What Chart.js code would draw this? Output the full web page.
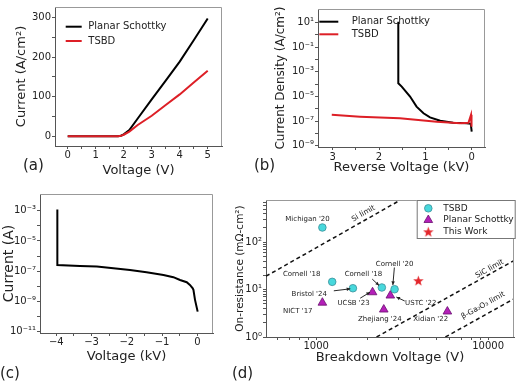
<!DOCTYPE html>
<html>
<head>
<meta charset="utf-8">
<title>Schottky diode figure</title>
<script src="https://cdn.jsdelivr.net/npm/chart.js@4.4.1/dist/chart.umd.min.js"></script>
<style>
  body { margin: 0; background: #fff; }
  #fig { position: relative; width: 520px; height: 381px; background: #fff; overflow: hidden; font-family: "DejaVu Sans", sans-serif; }
  #fig canvas { position: absolute; left: 0; top: 0; }
  .tag { position: absolute; font-size: 15px; line-height: 15px; color: #222; }
</style>
</head>
<body>
<div id="fig">
  <canvas id="fwdChart" width="520" height="381"></canvas>
  <canvas id="revChart" width="520" height="381"></canvas>
  <canvas id="bvChart" width="520" height="381"></canvas>
  <canvas id="benchChart" width="520" height="381"></canvas>
  <div class="tag" style="left:23px;top:158px">(a)</div>
  <div class="tag" style="left:254px;top:158px">(b)</div>
  <div class="tag" style="left:0px;top:366px">(c)</div>
  <div class="tag" style="left:232px;top:366px">(d)</div>
</div>
<script>
// ======= (a) forward J-V =======
const fwdVoltage = [0, 0.5, 1, 1.5, 1.8, 1.9, 2, 2.2, 2.5, 3, 3.5, 4, 4.5, 5];
const fwdPlanar  = [0, 0, 0, 0, 0, 1.5, 5, 16, 45, 93.5, 141, 189, 243, 298];
const fwdTsbd    = [0, 0, 0, 0, 0, 1.2, 4, 12, 28.6, 52, 79, 106, 136, 166];
const fwdXMajor = [0, 1, 2, 3, 4, 5];
const fwdXLabels = ['0', '1', '2', '3', '4', '5'];
const fwdXMinor = [0.5, 1.5, 2.5, 3.5, 4.5];
const fwdYMajor = [0, 100, 200, 300];
const fwdYLabels = ['0', '100', '200', '300'];
const fwdYMinor = [50, 150, 250];

// ======= (b) reverse J-V (kV, A/cm2) =======
const revPlanarV = [1.584, 1.584, 1.51, 1.33, 1.19, 1.04, 0.9, 0.68, 0.4, 0.11, 0.02, 0];
const revPlanarJ = [12, 1.2e-4, 6.3e-5, 1e-5, 1.5e-6, 4.3e-7, 2e-7, 1.07e-7, 7.4e-8, 6.6e-8, 6e-8, 1.4e-8];
const revTsbdV = [3.02, 2.41, 1.55, 0.755, 0.25, 0.07, 0.015, 0.008, 0];
const revTsbdJ = [3.2e-7, 2.3e-7, 1.7e-7, 8.9e-8, 6.6e-8, 7.4e-8, 3.2e-7, 5e-8, 3.5e-8];
const revXMajor = [0, 1, 2, 3];
const revXLabels = ['0', '1', '2', '3'];
const revXMinor = [0.5, 1.5, 2.5];
const revYMajor = [1e-9, 1e-7, 1e-5, 1e-3, 1e-1, 1e1];
const revYLabels = ['10⁻⁹', '10⁻⁷', '10⁻⁵', '10⁻³', '10⁻¹', '10¹'];
const revYMinor = [1e-8, 1e-6, 1e-4, 1e-2, 1e0];

// ======= (c) breakdown sweep (kV, A) =======
const bvVoltage = [-3.97, -3.97, -3.33, -2.85, -1.91, -1.44, -0.96, -0.68, -0.49, -0.3, -0.21, -0.13, -0.11, -0.065, 0.01];
const bvCurrent = [1.2e-3, 2.57e-7, 2.19e-7, 2.0e-7, 1.2e-7, 8.5e-8, 5.6e-8, 4.0e-8, 2.6e-8, 1.86e-8, 1.23e-8, 7.4e-9, 5.75e-9, 1.26e-9, 2.1e-10];
const bvXMajor = [-4, -3, -2, -1, 0];
const bvXLabels = ['−4', '−3', '−2', '−1', '0'];
const bvXMinor = [-3.5, -2.5, -1.5, -0.5];
const bvYMajor = [1e-11, 1e-9, 1e-7, 1e-5, 1e-3];
const bvYLabels = ['10⁻¹¹', '10⁻⁹', '10⁻⁷', '10⁻⁵', '10⁻³'];
const bvYMinor = [1e-10, 1e-8, 1e-6, 1e-4];

// ======= (d) benchmark (V, mOhm-cm2) =======
const tsbdBV  = [1087, 1240, 1636, 2410, 2858];
const tsbdRon = [205, 14.6, 10.7, 11.1, 10.2];
const planarBV  = [1087, 2128, 2700, 2473, 5795];
const planarRon = [5.3, 8.8, 7.5, 3.8, 3.45];
const thisWorkBV  = [3930];
const thisWorkRon = [15.5];
const siLimitBV  = [511, 3055];
const siLimitRon = [19.2, 760];
const sicLimitBV  = [2245, 14140];
const sicLimitRon = [1, 41.1];
const gaLimitBV  = [5644, 14140];
const gaLimitRon = [1, 6.4];
const limitNames   = ['Si limit', 'SiC limit', 'β-Ga₂O₃ limit'];
const limitLabelBV  = [1884, 10210, 9355];
const limitLabelRon = [403, 27.5, 4.62];
const noteText = ["Michigan '20", "Cornell '18", "Cornell '18", "Cornell '20", "Bristol '24", "UCSB '23", "NICT '17", "Zhejiang '24", "Xidian '22", "USTC '22"];
const noteBV  = [891, 824, 1884, 2858, 912, 1650, 782, 2345, 4635, 4060];
const noteRon = [301, 20.8, 21.5, 35, 8.15, 5.27, 3.45, 2.34, 2.34, 5.09];
const arrowFromBV  = [1267, 1803, 2119, 2850, 3274];
const arrowFromRon = [9.44, 6.59, 16.7, 29.3, 5.75];
const arrowToBV  = [1580, 2056, 2323, 2793, 2928];
const arrowToRon = [10.4, 8.81, 12.2, 12.5, 6.98];
const benchXMajor = [1000, 10000];
const benchXLabels = ['1000', '10000'];
const benchXMinor = [600, 700, 800, 900, 2000, 3000, 4000, 5000, 6000, 7000, 8000, 9000];
const benchYMajor = [1, 10, 100];
const benchYLabels = ['10⁰', '10¹', '10²'];
const benchYMinor = [2, 3, 4, 5, 6, 7, 8, 9, 20, 30, 40, 50, 60, 70, 80, 90, 200, 300, 400, 500, 600, 700];

// ======= helpers =======
Chart.defaults.font.family = '"DejaVu Sans", sans-serif';
Chart.defaults.color = '#222';
const AXIS = '#555';
const RED = '#dd1f26';

const pts = (xs, ys) => xs.map((x, i) => ({ x, y: ys[i] }));

function labelFor(value, major, labels) {
  const i = major.findIndex(m => m === 0 ? Math.abs(value) < 1e-9 : Math.abs(value / m - 1) < 1e-6);
  return i < 0 ? '' : labels[i];
}

function axis(o) {
  const all = o.major.concat(o.minor).sort((p, q) => p - q);
  return {
    type: o.type || 'linear',
    min: o.min, max: o.max, reverse: !!o.reverse, bounds: 'data',
    border: { display: true, color: AXIS, width: 1 },
    grid: { drawOnChartArea: false, tickLength: 3, tickColor: AXIS, tickWidth: 1 },
    ticks: {
      autoSkip: false, maxRotation: 0, minRotation: 0, padding: o.pad,
      font: { size: 10 }, color: '#222',
      callback: v => labelFor(v, o.major, o.labels)
    },
    title: { display: true, text: o.title, font: { size: o.titleSize || 13 }, color: '#222', padding: 0 },
    afterBuildTicks: s => { s.ticks = all.map(v => ({ value: v })); },
    afterFit: s => { if (s.isHorizontal()) s.height = o.size; else s.width = o.size; }
  };
}

function lineSet(label, data, color, order) {
  return { label, data, showLine: true, borderColor: color, backgroundColor: color, borderWidth: 2, pointRadius: 0, tension: 0, order };
}

function drawMarker(ctx, ds, x, y) {
  if (ds.pointStyle instanceof HTMLCanvasElement) {
    ctx.drawImage(ds.pointStyle, x - ds.pointStyle.width / 2, y - ds.pointStyle.height / 2);
    return;
  }
  ctx.fillStyle = ds.backgroundColor;
  ctx.strokeStyle = ds.borderColor;
  ctx.lineWidth = ds.borderWidth;
  ctx.beginPath();
  if (ds.pointStyle === 'triangle') {
    for (let k = 0; k < 3; k++) {
      const a = -Math.PI / 2 + k * 2 * Math.PI / 3;
      ctx.lineTo(x + ds.pointRadius * Math.cos(a), y + ds.pointRadius * Math.sin(a));
    }
    ctx.closePath();
  } else {
    ctx.arc(x, y, ds.pointRadius, 0, 2 * Math.PI);
  }
  ctx.fill();
  ctx.stroke();
}

// top/right frame edges + in-plot keys
const frame = {
  id: 'frame',
  afterDraw(chart, args, opts) {
    const { ctx, chartArea: a } = chart;
    ctx.save();
    ctx.strokeStyle = '#999';
    ctx.lineWidth = 1;
    ctx.beginPath();
    ctx.moveTo(a.left, Math.round(a.top) + 0.5);
    ctx.lineTo(Math.round(a.right) - 0.5, Math.round(a.top) + 0.5);
    ctx.lineTo(Math.round(a.right) - 0.5, a.bottom);
    ctx.stroke();

    const k = opts.lineKey;
    if (k) {
      ctx.font = '10px "DejaVu Sans"';
      ctx.textBaseline = 'middle';
      k.order.forEach((di, i) => {
        const ds = chart.data.datasets[di];
        const y = a.top + k.y + i * k.row;
        ctx.strokeStyle = ds.borderColor;
        ctx.lineWidth = 2;
        ctx.beginPath();
        ctx.moveTo(a.left + k.x, y);
        ctx.lineTo(a.left + k.x + k.w, y);
        ctx.stroke();
        ctx.fillStyle = '#222';
        ctx.fillText(ds.label, a.left + k.x + k.w + k.gap, y);
      });
    }

    const m = opts.markerKey;
    if (m) {
      ctx.fillStyle = '#fff';
      ctx.fillRect(a.left + m.boxX, a.top + m.boxY, m.boxW, m.boxH);
      ctx.strokeStyle = '#777';
      ctx.lineWidth = 1;
      ctx.strokeRect(a.left + m.boxX + 0.5, a.top + m.boxY + 0.5, m.boxW, m.boxH);
      ctx.font = '9px "DejaVu Sans"';
      ctx.textBaseline = 'middle';
      m.order.forEach((di, i) => {
        const ds = chart.data.datasets[di];
        const y = a.top + m.y + i * m.row;
        drawMarker(ctx, ds, a.left + m.x, y);
        ctx.fillStyle = '#222';
        ctx.fillText(ds.label, a.left + m.textX, y);
      });
    }
    ctx.restore();
  }
};

function arrow(ctx, x0, y0, x1, y1) {
  const ang = Math.atan2(y1 - y0, x1 - x0);
  ctx.beginPath();
  ctx.moveTo(x0, y0);
  ctx.lineTo(x1, y1);
  ctx.stroke();
  ctx.beginPath();
  ctx.moveTo(x1, y1);
  ctx.lineTo(x1 - 4 * Math.cos(ang - 0.45), y1 - 4 * Math.sin(ang - 0.45));
  ctx.lineTo(x1 - 4 * Math.cos(ang + 0.45), y1 - 4 * Math.sin(ang + 0.45));
  ctx.closePath();
  ctx.fill();
}

// labels, arrows and limit names for panel (d)
const benchNotes = {
  id: 'benchNotes',
  afterDatasetsDraw(chart) {
    const { ctx, scales: { x, y } } = chart;
    ctx.save();
    ctx.fillStyle = '#222';
    ctx.strokeStyle = '#111';
    ctx.lineWidth = 0.9;
    ctx.font = '7px "DejaVu Sans"';
    ctx.textAlign = 'center';
    ctx.textBaseline = 'middle';
    noteText.forEach((t, i) => ctx.fillText(t, x.getPixelForValue(noteBV[i]), y.getPixelForValue(noteRon[i])));
    arrowFromBV.forEach((v, i) => arrow(ctx,
      x.getPixelForValue(v), y.getPixelForValue(arrowFromRon[i]),
      x.getPixelForValue(arrowToBV[i]), y.getPixelForValue(arrowToRon[i])));

    ctx.font = '7.5px "DejaVu Sans"';
    limitNames.forEach((t, i) => {
      const p = chart.getDatasetMeta(3 + i).data;
      const ang = Math.atan2(p[1].y - p[0].y, p[1].x - p[0].x);
      ctx.save();
      ctx.translate(x.getPixelForValue(limitLabelBV[i]), y.getPixelForValue(limitLabelRon[i]));
      ctx.rotate(ang);
      ctx.fillText(t, 0, 0);
      ctx.restore();
    });
    ctx.restore();
  }
};

function starImage(size, color) {
  const c = document.createElement('canvas');
  c.width = c.height = size;
  const g = c.getContext('2d');
  const r = size / 2;
  g.beginPath();
  for (let i = 0; i < 10; i++) {
    const ang = -Math.PI / 2 + i * Math.PI / 5;
    const rr = i % 2 ? r * 0.42 : r;
    g.lineTo(r + rr * Math.cos(ang), r + 0.5 + rr * Math.sin(ang));
  }
  g.closePath();
  g.fillStyle = color;
  g.fill();
  return c;
}

function panel(id, pad, datasets, x, y, extras, plugins) {
  return new Chart(document.getElementById(id), {
    type: 'scatter',
    data: { datasets },
    options: {
      responsive: false,
      animation: false,
      events: [],
      layout: { padding: pad },
      plugins: { legend: { display: false }, tooltip: { enabled: false }, frame: extras },
      scales: { x, y }
    },
    plugins: [frame].concat(plugins || [])
  });
}

// ======= (a) =======
panel('fwdChart', { left: 14, top: 7, right: 298, bottom: 203 },
  [lineSet('Planar Schottky', pts(fwdVoltage, fwdPlanar), '#000', 1),
   lineSet('TSBD', pts(fwdVoltage, fwdTsbd), RED, 0)],
  axis({ min: -0.454, max: 5.51, major: fwdXMajor, minor: fwdXMinor, labels: fwdXLabels, title: 'Voltage (V)', size: 32, pad: 0 }),
  axis({ min: -24.5, max: 327, major: fwdYMajor, minor: fwdYMinor, labels: fwdYLabels, title: 'Current (A/cm²)', size: 41, pad: 1 }),
  { lineKey: { x: 10.7, y: 19.7, w: 16, gap: 6.6, row: 14.3, order: [0, 1] } });

// ======= (b) =======
panel('revChart', { left: 274, top: 9, right: 35, bottom: 206 },
  [lineSet('Planar Schottky', pts(revPlanarV, revPlanarJ), '#000', 1),
   lineSet('TSBD', pts(revTsbdV, revTsbdJ), RED, 0)],
  axis({ min: -0.287, max: 3.317, reverse: true, major: revXMajor, minor: revXMinor, labels: revXLabels, title: 'Reverse Voltage (kV)', size: 28, pad: 1 }),
  axis({ type: 'logarithmic', min: 7.8e-10, max: 130, major: revYMajor, minor: revYMinor, labels: revYLabels, title: 'Current Density (A/cm²)', titleSize: 12, size: 44, pad: 1 }),
  { lineKey: { x: 1.3, y: 12.7, w: 19, gap: 13.4, row: 12.6, order: [0, 1] } });

// ======= (c) =======
panel('bvChart', { left: 1, top: 194, right: 307, bottom: 17 },
  [lineSet('Current', pts(bvVoltage, bvCurrent), '#000', 0)],
  axis({ min: -4.462, max: 0.445, major: bvXMajor, minor: bvXMinor, labels: bvXLabels, title: 'Voltage (kV)', size: 31, pad: 0 }),
  axis({ type: 'logarithmic', min: 8.1e-12, max: 1.27e-2, major: bvYMajor, minor: bvYMinor, labels: bvYLabels, title: 'Current (A)', titleSize: 14, size: 39, pad: 1 }),
  {});

// ======= (d) =======
const dashed = (label, data) => ({ label, data, showLine: true, borderColor: '#111', borderWidth: 1.5, borderDash: [4, 3], pointRadius: 0, order: 5 });
panel('benchChart', { left: 234, top: 200, right: 2, bottom: 16 },
  [{ label: 'TSBD', data: pts(tsbdBV, tsbdRon), pointStyle: 'circle', pointRadius: 3.8, backgroundColor: '#48d8dc', borderColor: '#3a8f99', borderWidth: 0.8, order: 0 },
   { label: 'Planar Schottky', data: pts(planarBV, planarRon), pointStyle: 'triangle', pointRadius: 5, backgroundColor: '#b41fb8', borderColor: '#6a1070', borderWidth: 0.8, order: 0 },
   { label: 'This Work', data: pts(thisWorkBV, thisWorkRon), pointStyle: starImage(11, '#e3262b'), pointRadius: 5, backgroundColor: '#e3262b', borderColor: '#e3262b', order: 0 },
   dashed('Si limit', pts(siLimitBV, siLimitRon)),
   dashed('SiC limit', pts(sicLimitBV, sicLimitRon)),
   dashed('β-Ga₂O₃ limit', pts(gaLimitBV, gaLimitRon))],
  axis({ type: 'logarithmic', min: 511, max: 14140, major: benchXMajor, minor: benchXMinor, labels: benchXLabels, title: 'Breakdown Voltage (V)', size: 28, pad: 0 }),
  axis({ type: 'logarithmic', min: 1, max: 780, major: benchYMajor, minor: benchYMinor, labels: benchYLabels, title: 'On-resistance (mΩ-cm²)', titleSize: 10.5, size: 32, pad: 1 }),
  { markerKey: { boxX: 150.7, boxY: 0, boxW: 98, boxH: 38, x: 162.3, y: 8.3, row: 11.7, textX: 177.3, order: [0, 1, 2] } },
  [benchNotes]);
</script>
</body>
</html>
